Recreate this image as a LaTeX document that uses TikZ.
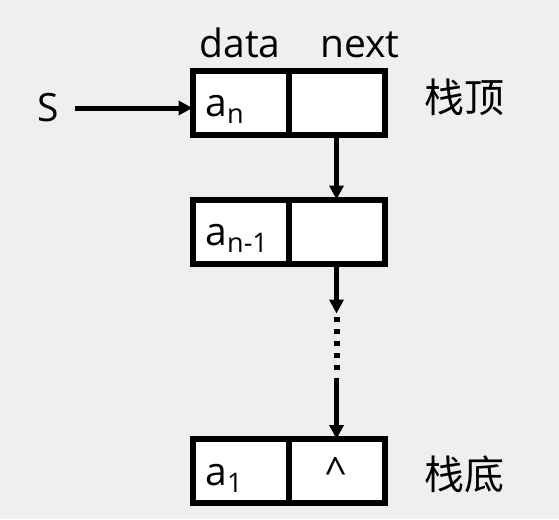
\documentclass[tikz,border=0pt]{standalone}
\usepackage{fontspec}
\setmainfont{Open Sans}
\newfontfamily\cjk{Noto Sans CJK SC}
\usepackage{xcolor}
\usetikzlibrary{positioning,arrows.meta}

\definecolor{slidebg}{HTML}{EFEFEF}
\newcommand{\lowidx}[1]{\raisebox{-7pt}{\fontsize{27}{27}\selectfont #1}}

\begin{document}
\begin{tikzpicture}[
            x=1pt, y=1pt,
            font=\fontsize{39}{44}\selectfont,
            cell/.style={rectangle, draw, fill=white, line width=6pt,
                minimum width=96pt, minimum height=64pt, inner ysep=0pt,
                inner xsep=13pt, outer sep=0pt, text width=70pt,
                text height=30pt, text depth=2pt, align=center},
            datacell/.style={cell, align=left},
            ptr/.style={-{Triangle[length=14pt,width=14pt]}, line width=5pt},
            side/.style={font=\cjk\fontsize{40}{44}\selectfont}
        ]
            \fill[slidebg] (0,0) rectangle (559,-519);
            % Nodes of the stack
            \node[datacell] (d1) at (240.5,-102.5) {a\lowidx{n}};
            \node[cell]     (n1) at (336.5,-102.5) {};
            \node[datacell] (d2) at (240.5,-231.5) {a\lowidx{n-1}};
            \node[cell]     (n2) at (336.5,-231.5) {};
            \node[datacell] (d3) at (240.5,-471) {a\lowidx{1}};
            \node[cell]     (n3) at (336.5,-471) {\textasciicircum};
            % Labels
            \node[anchor=base] (hdata) at (240,-57) {data};
            \node[anchor=base] (hnext) at (360,-57) {next};
            \node (s) at (48,-108) {S};
            \node[side, right=36pt of n1, yshift=5pt] (top) {栈顶};
            \node[side, right=36pt of n3, yshift=-3pt] (bottom) {栈底};
            % Pointers
            \coordinate[below=50pt of n2.south] (gap1);
            \coordinate[below=114pt of n2.south] (gap2);
            \draw[ptr] ([xshift=13pt]s.east) -- (s.east -| d1.west);
            \draw[ptr] (n1.south) -- (n2.north);
            \draw[ptr] (n2.south) -- (gap1);
            \draw[line width=6pt, dash pattern=on 5pt off 7pt] ([yshift=-3pt]gap1) -- ([yshift=3pt]gap2);
            \draw[ptr] (gap2) -- (n3.north);
        \end{tikzpicture}
\end{document}
